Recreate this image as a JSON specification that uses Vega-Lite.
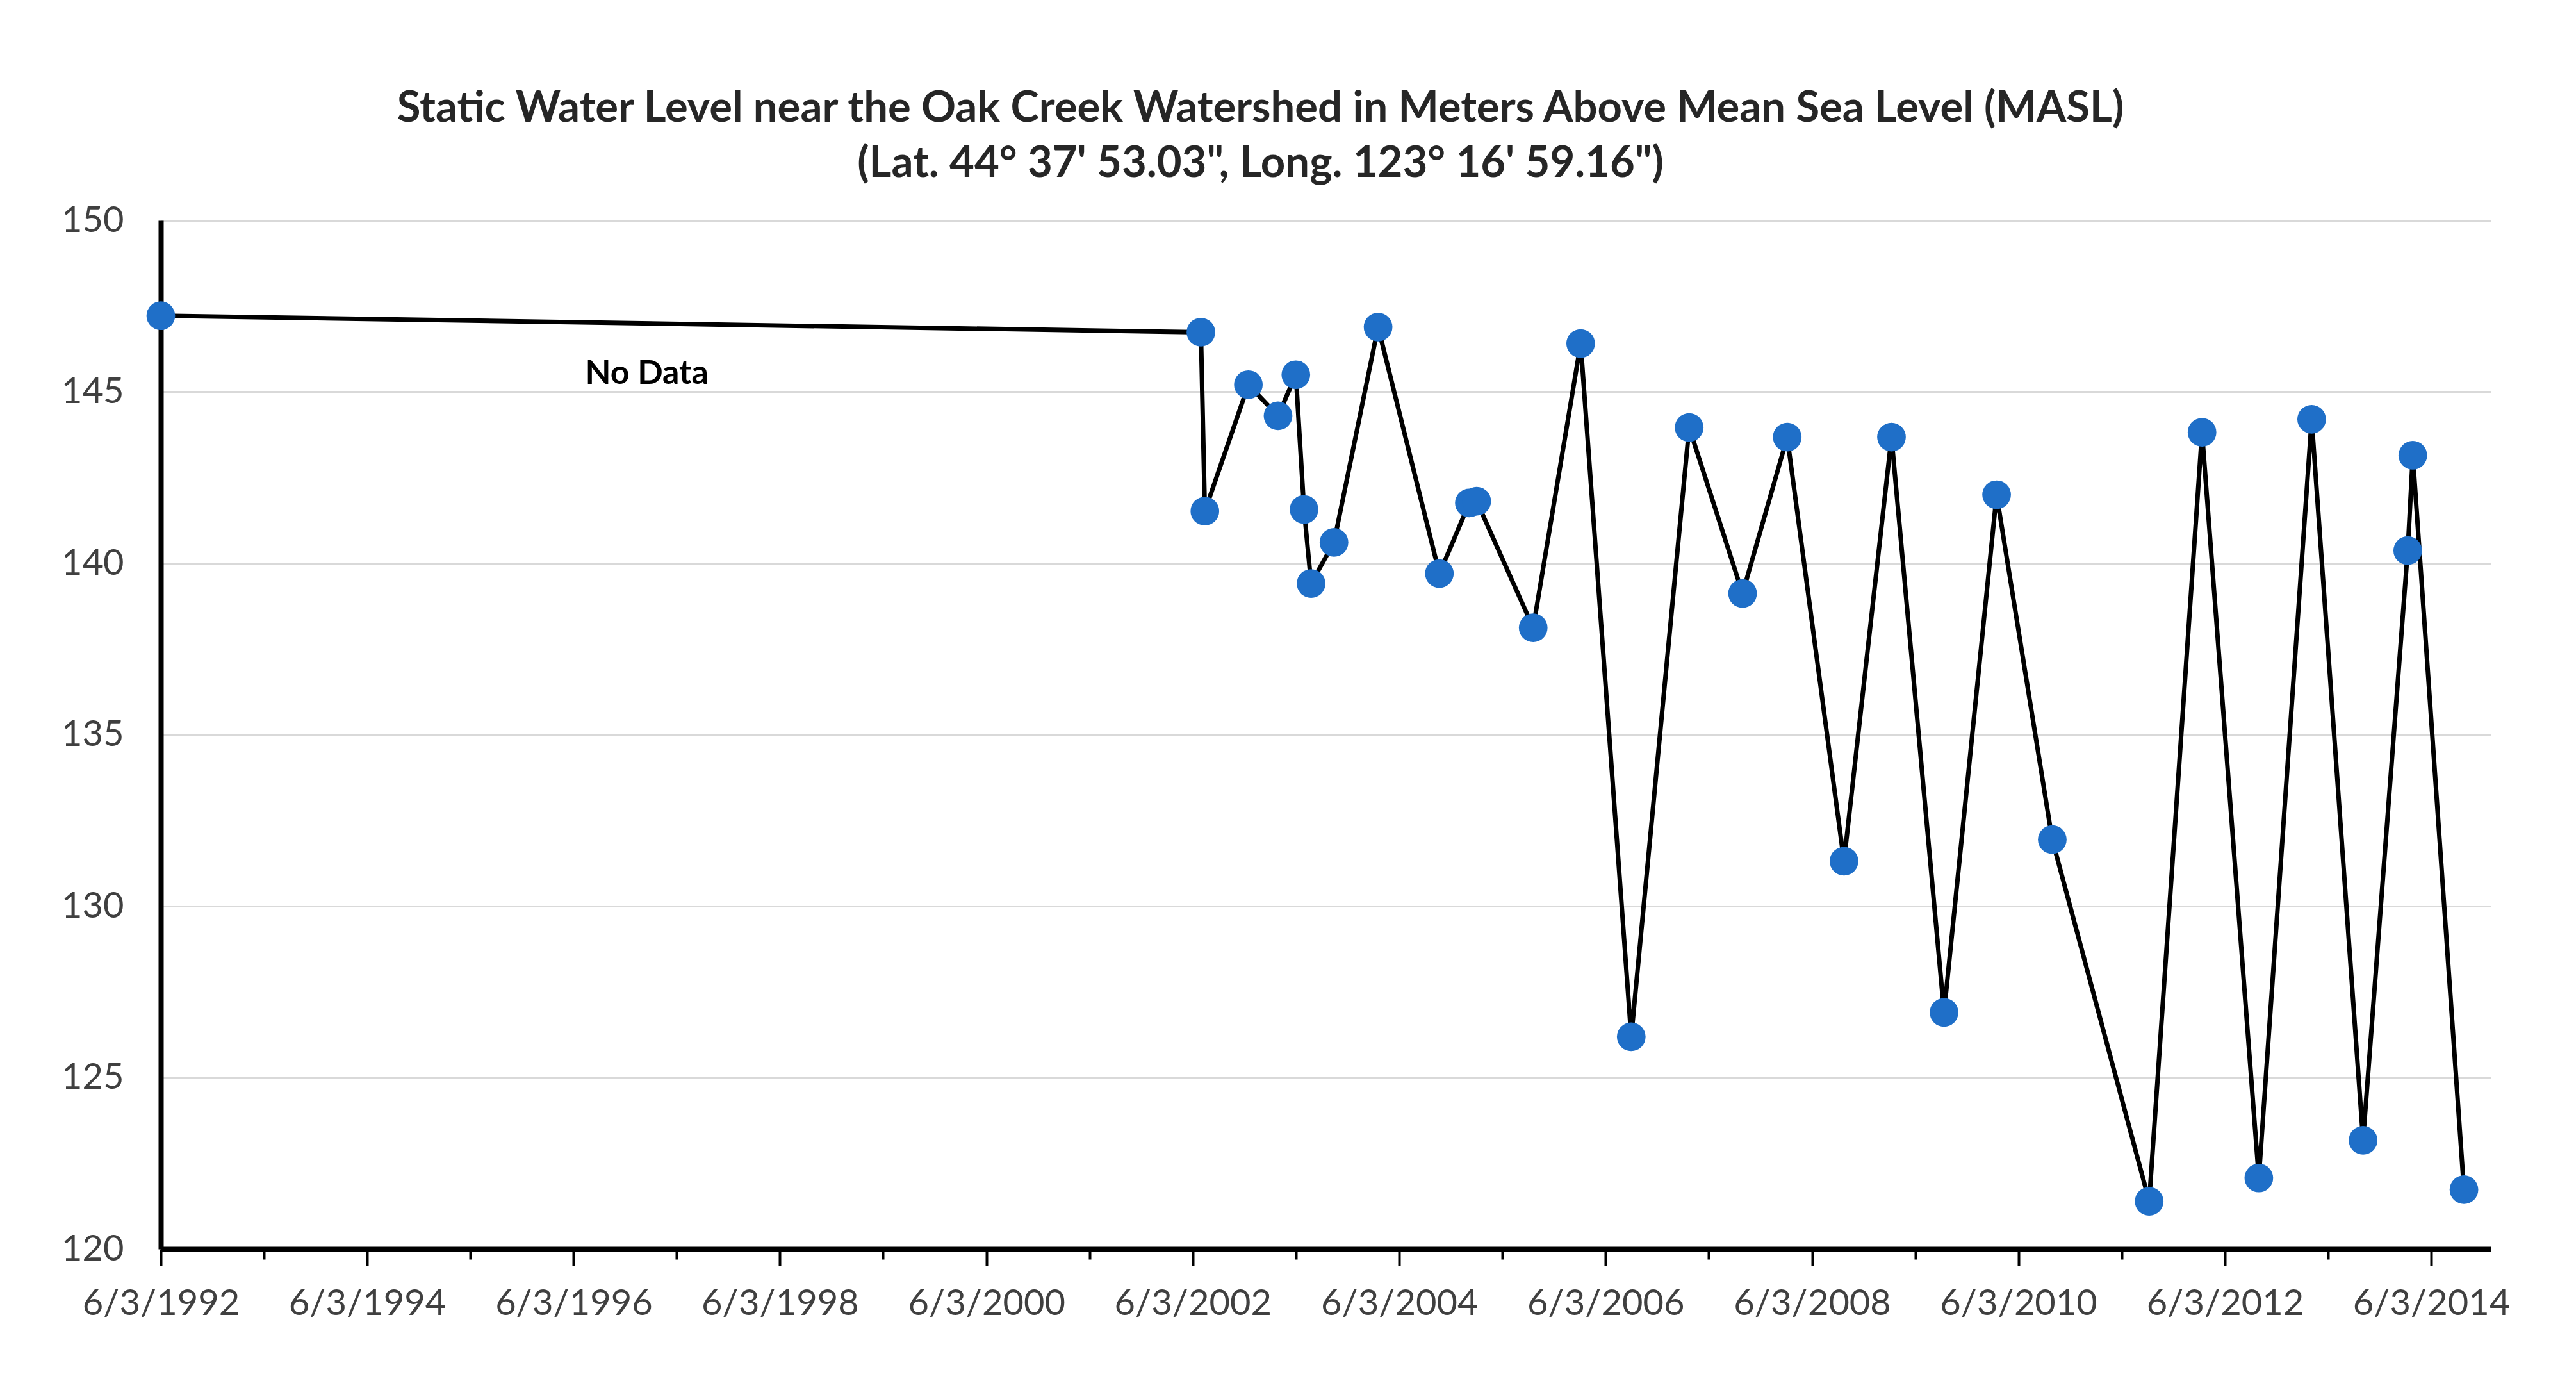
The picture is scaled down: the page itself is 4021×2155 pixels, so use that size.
{
  "$schema": "https://vega.github.io/schema/vega-lite/v6.json",
  "width": 3637,
  "height": 1605,
  "autosize": {"type": "none"},
  "padding": {"left": 251, "top": 344, "right": 133, "bottom": 206},
  "background": "white",
  "config": {"view": {"stroke": null}, "font": "Lato"},
  "title": {
    "text": ["Static Water Level near the Oak Creek Watershed in Meters Above Mean Sea Level (MASL)", "(Lat. 44° 37' 53.03\", Long. 123° 16' 59.16\")"],
    "font": "Lato",
    "fontSize": 67,
    "fontWeight": "bold",
    "color": "#262626",
    "anchor": "middle",
    "dx": -102,
    "offset": 26,
    "lineHeight": 86
  },
  "data": {
    "values": [
      {"date": "1992-06-03T00:00:00", "value": 147.22},
      {"date": "2002-07-02T00:00:00", "value": 146.74},
      {"date": "2002-07-16T00:00:00", "value": 141.52},
      {"date": "2002-12-17T00:00:00", "value": 145.21},
      {"date": "2003-04-01T00:00:00", "value": 144.30},
      {"date": "2003-06-03T00:00:00", "value": 145.50},
      {"date": "2003-07-02T00:00:00", "value": 141.57},
      {"date": "2003-07-27T00:00:00", "value": 139.41},
      {"date": "2003-10-16T00:00:00", "value": 140.61},
      {"date": "2004-03-20T00:00:00", "value": 146.89},
      {"date": "2004-10-23T00:00:00", "value": 139.70},
      {"date": "2005-02-06T00:00:00", "value": 141.76},
      {"date": "2005-03-04T00:00:00", "value": 141.81},
      {"date": "2005-09-20T00:00:00", "value": 138.12},
      {"date": "2006-03-07T00:00:00", "value": 146.41},
      {"date": "2006-09-02T00:00:00", "value": 126.19},
      {"date": "2007-03-26T00:00:00", "value": 143.96},
      {"date": "2007-10-01T00:00:00", "value": 139.12},
      {"date": "2008-03-07T00:00:00", "value": 143.68},
      {"date": "2008-09-24T00:00:00", "value": 131.31},
      {"date": "2009-03-11T00:00:00", "value": 143.68},
      {"date": "2009-09-13T00:00:00", "value": 126.90},
      {"date": "2010-03-18T00:00:00", "value": 142.00},
      {"date": "2010-10-01T00:00:00", "value": 131.94},
      {"date": "2011-09-09T00:00:00", "value": 121.39},
      {"date": "2012-03-14T00:00:00", "value": 143.82},
      {"date": "2012-10-01T00:00:00", "value": 122.07},
      {"date": "2013-04-06T00:00:00", "value": 144.20},
      {"date": "2013-10-05T00:00:00", "value": 123.17},
      {"date": "2014-03-12T00:00:00", "value": 140.37},
      {"date": "2014-03-30T00:00:00", "value": 143.15},
      {"date": "2014-09-27T00:00:00", "value": 121.73}
    ]
  },
  "layer": [
    {
      "mark": {"type": "line", "color": "black", "strokeWidth": 7},
      "encoding": {
        "x": {
          "field": "date",
          "type": "temporal",
          "title": null,
          "scale": {"domain": [{"year": 1992, "month": 6, "date": 3}, {"year": 2014, "month": 12, "date": 31}]},
          "axis": {
            "values": [
              {"year": 1992, "month": 6, "date": 3}, {"year": 1993, "month": 6, "date": 3},
              {"year": 1994, "month": 6, "date": 3}, {"year": 1995, "month": 6, "date": 3},
              {"year": 1996, "month": 6, "date": 3}, {"year": 1997, "month": 6, "date": 3},
              {"year": 1998, "month": 6, "date": 3}, {"year": 1999, "month": 6, "date": 3},
              {"year": 2000, "month": 6, "date": 3}, {"year": 2001, "month": 6, "date": 3},
              {"year": 2002, "month": 6, "date": 3}, {"year": 2003, "month": 6, "date": 3},
              {"year": 2004, "month": 6, "date": 3}, {"year": 2005, "month": 6, "date": 3},
              {"year": 2006, "month": 6, "date": 3}, {"year": 2007, "month": 6, "date": 3},
              {"year": 2008, "month": 6, "date": 3}, {"year": 2009, "month": 6, "date": 3},
              {"year": 2010, "month": 6, "date": 3}, {"year": 2011, "month": 6, "date": 3},
              {"year": 2012, "month": 6, "date": 3}, {"year": 2013, "month": 6, "date": 3},
              {"year": 2014, "month": 6, "date": 3}
            ],
            "labelExpr": "year(datum.value) % 2 == 0 ? timeFormat(datum.value, '%-m/%-d/%Y') : ''",
            "tickSize": {"condition": {"test": "year(datum.value) % 2 == 0", "value": 26}, "value": 16},
            "tickWidth": 4,
            "tickColor": "black",
            "domainWidth": 8,
            "domainColor": "black",
            "grid": false,
            "labelFont": "Lato",
            "labelFontSize": 56,
            "labelColor": "#404040",
            "labelPadding": 32,
            "labelLimit": 0,
            "labelOverlap": false,
            "labelFlush": false
          }
        },
        "y": {
          "field": "value",
          "type": "quantitative",
          "title": null,
          "scale": {"domain": [120, 150], "nice": false, "zero": false},
          "axis": {
            "values": [120, 125, 130, 135, 140, 145, 150],
            "ticks": false,
            "domainWidth": 8,
            "domainColor": "black",
            "gridColor": "#d9d9d9",
            "gridWidth": 3,
            "labelFont": "Lato",
            "labelFontSize": 56,
            "labelColor": "#404040",
            "labelPadding": 58
          }
        }
      }
    },
    {
      "mark": {"type": "point", "filled": true, "color": "#1f6fc8", "size": 2000, "opacity": 1},
      "encoding": {
        "x": {"field": "date", "type": "temporal", "title": null},
        "y": {"field": "value", "type": "quantitative", "title": null}
      }
    },
    {
      "data": {"values": [{"date": "1997-02-17T00:00:00", "value": 145.54, "label": "No Data"}]},
      "mark": {"type": "text", "font": "Lato", "fontWeight": "bold", "fontSize": 52, "color": "black"},
      "encoding": {
        "x": {"field": "date", "type": "temporal", "title": null},
        "y": {"field": "value", "type": "quantitative", "title": null},
        "text": {"field": "label"}
      }
    }
  ]
}
